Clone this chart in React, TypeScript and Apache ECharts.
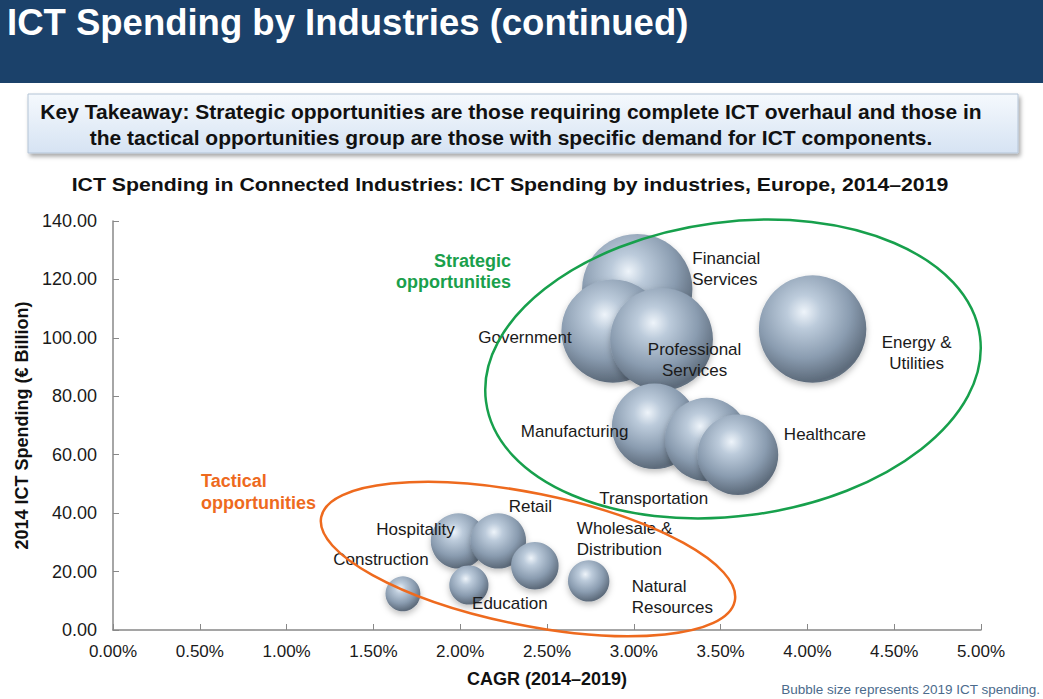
import React, { useEffect, useRef } from "react";
import * as echarts from "echarts";

// ---- Data ----
const industries = [
  "Financial Services",
  "Government",
  "Professional Services",
  "Energy & Utilities",
  "Manufacturing",
  "Transportation",
  "Healthcare",
  "Hospitality",
  "Retail",
  "Wholesale & Distribution",
  "Natural Resources",
  "Education",
  "Construction",
];
const labelTexts = [
  "Financial\nServices",
  "Government",
  "Professional\nServices",
  "Energy &\nUtilities",
  "Manufacturing",
  "Transportation",
  "Healthcare",
  "Hospitality",
  "Retail",
  "Wholesale &\nDistribution",
  "Natural\nResources",
  "Education",
  "Construction",
];
// CAGR 2014–2019 (%)
const cagr = [3.02, 2.88, 3.16, 4.03, 3.12, 3.42, 3.6, 1.99, 2.22, 2.43, 2.74, 2.05, 1.67];
// 2014 ICT spending (€ billion)
const spend2014 = [116.7, 102.3, 99.5, 103, 69.7, 65.2, 60, 30.5, 30.5, 22, 16.8, 15.4, 12.4];
// 2019 ICT spending (€ billion) – bubble size
const spend2019 = [135, 118, 117, 128, 81, 77, 72, 34, 34, 25, 19, 17, 13.5];

const xTicks = [0, 0.5, 1, 1.5, 2, 2.5, 3, 3.5, 4, 4.5, 5];
const yTicks = [0, 20, 40, 60, 80, 100, 120, 140];

// ---- Layout (label offsets from bubble centre, px) ----
const labelLayout: { offset: [number, number]; align: string }[] = [
  { offset: [55, -20], align: "left" },
  { offset: [-88, 6], align: "center" },
  { offset: [33, 21], align: "center" },
  { offset: [104, 24], align: "center" },
  { offset: [-80, 5], align: "center" },
  { offset: [-53, 59], align: "center" },
  { offset: [87, -20], align: "center" },
  { offset: [-43, -11], align: "center" },
  { offset: [32, -34], align: "center" },
  { offset: [42, -27], align: "left" },
  { offset: [43, 16], align: "left" },
  { offset: [41, 18], align: "center" },
  { offset: [-22, -34], align: "center" },
];

const FONT = "Arial, 'Liberation Sans', Helvetica, sans-serif";

export default function App() {
  const ref = useRef<HTMLDivElement>(null);

  useEffect(() => {
    if (!ref.current) return;
    const chart = echarts.init(ref.current, undefined, { renderer: "svg" });

    const bubbleColor = new echarts.graphic.RadialGradient(0.42, 0.34, 0.72, [
      { offset: 0, color: "#eef4fa" },
      { offset: 0.22, color: "#bccbdb" },
      { offset: 0.6, color: "#8a9cb0" },
      { offset: 0.9, color: "#5d6b7b" },
      { offset: 1, color: "#6c7a8a" },
    ]);

    const data = industries.map((name, i) => ({
      name,
      value: [cagr[i], spend2014[i], spend2019[i]],
      label: {
        show: true,
        position: "inside",
        formatter: labelTexts[i],
        offset: labelLayout[i].offset,
        align: labelLayout[i].align,
        verticalAlign: "middle",
        color: "#1a1a1a",
        fontSize: 17,
        lineHeight: 21,
        fontFamily: FONT,
      },
    }));

    chart.setOption({
      animation: false,
      backgroundColor: "#ffffff",
      grid: { left: 113, right: 62, top: 221, bottom: 69, containLabel: false },
      xAxis: {
        type: "value",
        min: xTicks[0],
        max: xTicks[xTicks.length - 1],
        interval: 0.5,
        name: "CAGR (2014–2019)",
        nameLocation: "middle",
        nameGap: 40,
        nameTextStyle: { fontWeight: "bold", fontSize: 18, color: "#111", fontFamily: FONT },
        axisLine: { show: true, lineStyle: { color: "#888", width: 1.5 } },
        axisTick: { show: true, inside: true, length: 6, lineStyle: { color: "#888" } },
        splitLine: { show: false },
        axisLabel: {
          formatter: (v: number) => v.toFixed(2) + "%",
          fontSize: 17,
          color: "#1a1a1a",
          margin: 13,
          fontFamily: FONT,
        },
      },
      yAxis: {
        type: "value",
        min: yTicks[0],
        max: yTicks[yTicks.length - 1],
        interval: 20,
        name: "2014 ICT Spending (€ Billion)",
        nameLocation: "middle",
        nameGap: 76,
        nameTextStyle: { fontWeight: "bold", fontSize: 18, color: "#111", fontFamily: FONT },
        axisLine: { show: true, lineStyle: { color: "#888", width: 1.5 } },
        axisTick: { show: true, inside: true, length: 6, lineStyle: { color: "#888" } },
        splitLine: { show: false },
        axisLabel: {
          formatter: (v: number) => v.toFixed(2),
          fontSize: 18,
          color: "#1a1a1a",
          margin: 16,
          fontFamily: FONT,
        },
      },
      series: [
        {
          type: "scatter",
          data,
          symbol: "circle",
          symbolSize: (val: number[]) => 9.5 * Math.sqrt(val[2]),
          itemStyle: {
            color: bubbleColor,
            shadowBlur: 6,
            shadowColor: "rgba(0,0,0,0.25)",
            shadowOffsetY: 3,
            opacity: 1,
          },
          z: 2,
        },
      ],
      graphic: [
        // Header band
        {
          type: "rect",
          left: 0,
          top: 0,
          shape: { width: 1043, height: 83 },
          style: { fill: "#1b416a" },
          z: 0,
        },
        {
          type: "text",
          x: 7,
          y: 22,
          style: {
            text: "ICT Spending by Industries (continued)",
            fill: "#ffffff",
            font: "bold 36.5px " + FONT,
            verticalAlign: "middle",
          },
          z: 1,
        },
        // Key takeaway box
        {
          type: "rect",
          x: 28,
          y: 94,
          shape: { width: 990, height: 59 },
          style: {
            fill: new echarts.graphic.LinearGradient(0, 0, 0, 1, [
              { offset: 0, color: "#f5f9fd" },
              { offset: 1, color: "#d6e3f3" },
            ]),
            stroke: "#b4c4d6",
            lineWidth: 1,
            shadowBlur: 4,
            shadowOffsetX: 2,
            shadowOffsetY: 3,
            shadowColor: "rgba(0,0,0,0.35)",
          },
          z: 0,
        },
        {
          type: "text",
          x: 511,
          y: 124,
          style: {
            text:
              "Key Takeaway: Strategic opportunities are those requiring complete ICT overhaul and those in\nthe tactical opportunities group are those with specific demand for ICT components.",
            fill: "#111111",
            font: "bold 21px " + FONT,
            lineHeight: 26,
            align: "center",
            verticalAlign: "middle",
          },
          z: 1,
        },
        // Chart title
        {
          type: "text",
          x: 510,
          y: 184,
          scaleX: 1.12,
          style: {
            text: "ICT Spending in Connected Industries: ICT Spending by industries, Europe, 2014–2019",
            fill: "#111111",
            font: "bold 19px " + FONT,
            align: "center",
            verticalAlign: "middle",
          },
          z: 1,
        },
        // Strategic ellipse
        {
          type: "ellipse",
          x: 733,
          y: 369,
          rotation: 0.13,
          shape: { cx: 0, cy: 0, rx: 249, ry: 147 },
          style: { fill: "none", stroke: "#17a04c", lineWidth: 2.5 },
          z: 10,
        },
        // Tactical ellipse
        {
          type: "ellipse",
          x: 528,
          y: 559,
          rotation: -0.2,
          shape: { cx: 0, cy: 0, rx: 211, ry: 66 },
          style: { fill: "none", stroke: "#ee6a1e", lineWidth: 2.5 },
          z: 10,
        },
        {
          type: "text",
          x: 511,
          y: 271,
          style: {
            text: "Strategic\nopportunities",
            fill: "#1aa04c",
            font: "bold 18px " + FONT,
            lineHeight: 21,
            align: "right",
            verticalAlign: "middle",
          },
          z: 11,
        },
        {
          type: "text",
          x: 201,
          y: 492,
          style: {
            text: "Tactical\nopportunities",
            fill: "#ee6a1e",
            font: "bold 18px " + FONT,
            lineHeight: 22,
            align: "left",
            verticalAlign: "middle",
          },
          z: 11,
        },
        // Footnote
        {
          type: "text",
          x: 1040,
          y: 689,
          style: {
            text: "Bubble size represents 2019 ICT spending.",
            fill: "#4b6b8c",
            font: "13.5px " + FONT,
            align: "right",
            verticalAlign: "middle",
          },
          z: 11,
        },
      ],
    });

    return () => chart.dispose();
  }, []);

  return (
    <div
      ref={ref}
      style={{ position: "fixed", left: 0, top: 0, width: 1043, height: 699, background: "#fff" }}
    />
  );
}
